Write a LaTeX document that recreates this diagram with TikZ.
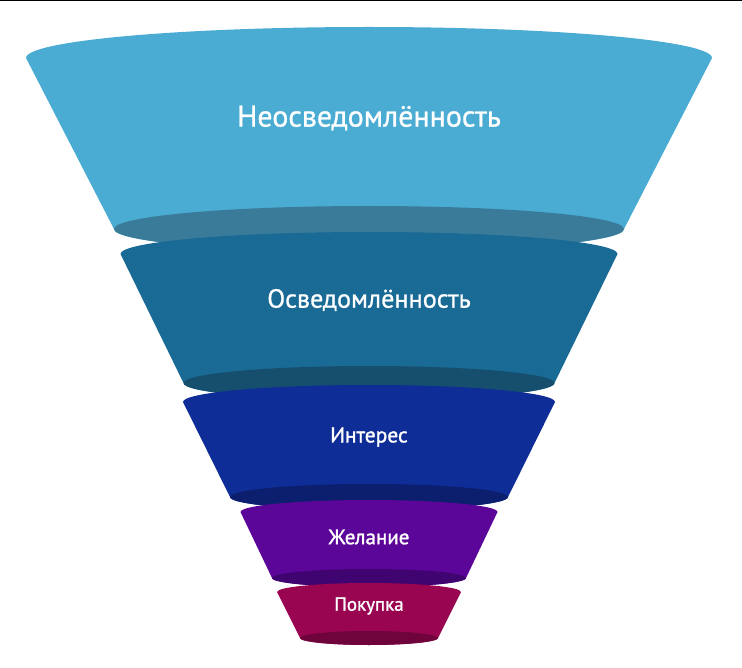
\documentclass[tikz,border=0pt]{standalone}
\usepackage{fontspec}
\setmainfont{PT Sans}
\newfontfamily\labelfont{PT Sans}[FakeBold=0.9]
\newfontfamily\smalllabelfont{PT Sans}[FakeBold=1.3]
\definecolor{cA}{HTML}{4AABD3}
\definecolor{cAd}{HTML}{3A7B99}
\definecolor{cB}{HTML}{1A6A96}
\definecolor{cBd}{HTML}{164F6E}
\definecolor{cC}{HTML}{0F2D96}
\definecolor{cCd}{HTML}{0C1E6E}
\definecolor{cD}{HTML}{5C0599}
\definecolor{cDd}{HTML}{3F0470}
\definecolor{cE}{HTML}{9A0552}
\definecolor{cEd}{HTML}{6E043B}
\newcommand{\funnelseg}[9]{%
  % #1 cx, #2 top y, #3 top rx, #4 top ry, #5 bottom y, #6 bottom rx, #7 bottom ry, #8 colour, #9 dark colour
  \fill[#8] ({#1-#3},#2) arc[start angle=180,end angle=360,x radius=#3,y radius=#4]
     -- ({#1+#6},#5) arc[start angle=0,end angle=180,x radius=#6,y radius=#7] -- cycle;
  \fill[#9] (#1,#5) ellipse[x radius=#6,y radius=#7];
}
\begin{document}
\begin{tikzpicture}[x=1pt,y=-1pt,
  lbl/.style={text=white,inner sep=0pt,anchor=center}]
\useasboundingbox (0,0) rectangle (742,668);
\fill[white] (0,0) rectangle (742,668);
\fill[black] (0,0) rectangle (742,1.5);
\funnelseg{369}{58}{343}{31}{229}{255}{23}{cA}{cAd}
\funnelseg{369}{254}{248.5}{22}{383}{185.5}{17}{cB}{cBd}
\funnelseg{369}{402}{186}{17}{497}{139}{13}{cC}{cCd}
\funnelseg{369}{512}{128.5}{12}{578}{97}{9}{cD}{cDd}
\funnelseg{369}{592}{92}{9}{638}{69}{7}{cE}{cEd}
\node[lbl,font=\labelfont\fontsize{30}{32}\selectfont] (t1) at (369,118) {Неосведомлённость};
\node[lbl,font=\labelfont\fontsize{26.2}{28}\selectfont] (t2) at (369,300) {Осведомлённость};
\node[lbl,font=\smalllabelfont\fontsize{21.5}{23}\selectfont] (t3) at (369,437) {Интерес};
\node[lbl,font=\smalllabelfont\fontsize{21}{23}\selectfont] (t4) at (369,537) {Желание};
\node[lbl,font=\smalllabelfont\fontsize{19}{21}\selectfont] (t5) at (369,606) {Покупка};
\end{tikzpicture}
\end{document}
